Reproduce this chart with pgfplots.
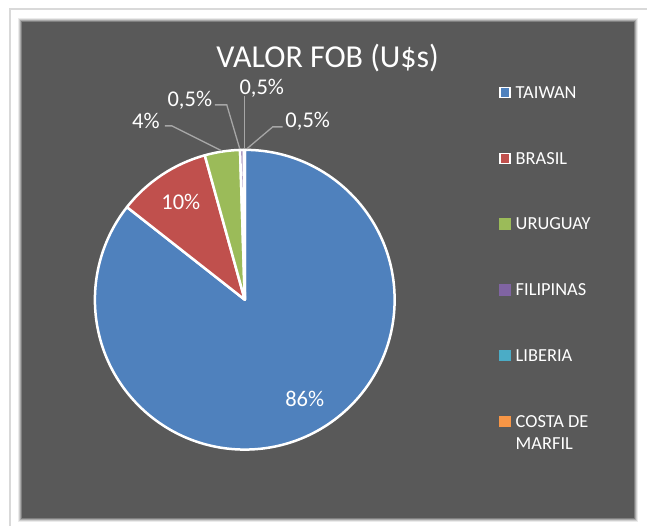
\documentclass[border=0pt]{standalone}
\usepackage{pgfplots}
\pgfplotsset{compat=1.18}
\usepackage{pgfplotstable}
\usepackage{fontspec}
\setmainfont{Carlito}

\definecolor{fondo}{HTML}{595959}
\definecolor{guia}{HTML}{A6A6A6}
\definecolor{cTAIWAN}{HTML}{4F81BD}
\definecolor{cBRASIL}{HTML}{C0504D}
\definecolor{cURUGUAY}{HTML}{9BBB59}
\definecolor{cFILIPINAS}{HTML}{8064A2}
\definecolor{cLIBERIA}{HTML}{4BACC6}
\definecolor{cCOSTA}{HTML}{F79646}

% participacion (%); etiqueta = texto mostrado; lx,ly = posicion de la etiqueta (px)
\pgfplotstableread{
pais      valor etiqueta lx  ly  borde
TAIWAN    85.6  86       305 399 white
BRASIL    10.1  10       181 202 white
URUGUAY   3.8   4        146 121 cURUGUAY
FILIPINAS 0.4   0,5      190 100 cFILIPINAS
LIBERIA   0.05  0,5      262 88  cLIBERIA
COSTA     0.05  0,5      308 121 cCOSTA
}\pies

\begin{document}
\begin{tikzpicture}
\begin{axis}[
  width=648pt, height=526pt, scale only axis,
  xmin=0, xmax=648, ymin=0, ymax=526,
  hide axis, clip=false,
]
\path (axis cs:0,0) rectangle (axis cs:648,526);
% marco y panel
\draw[black!15, line width=1.2pt] (axis cs:10,0) -- (axis cs:10,517) -- (axis cs:648,517);
\foreach \s/\o in {4/0.08,3/0.12,2/0.18,1/0.25}{
  \edef\temp{\noexpand\fill[black, opacity=\o] (axis cs:{22-\s},{8-\s}) rectangle (axis cs:{635+\s},{504+\s});}
  \temp
}
\fill[fondo] (axis cs:22,8) rectangle (axis cs:635,504);

\node[text=white, font=\fontsize{32}{38}\selectfont] at (axis cs:328,468) {VALOR FOB (U\$s)};

% sectores
\gdef\acum{0}
\pgfplotsinvokeforeach{0,...,5}{%
  \pgfplotstablegetelem{#1}{valor}\of\pies \let\val\pgfplotsretval
  \pgfplotstablegetelem{#1}{pais}\of\pies \let\pais\pgfplotsretval
  \pgfmathsetmacro\ai{90-3.6*\acum}
  \pgfmathsetmacro\af{90-3.6*(\acum+\val)}
  \pgfmathparse{\acum+\val}\xdef\acum{\pgfmathresult}
  \edef\temp{\noexpand\filldraw[fill=c\pais, draw=white, line width=2.5pt, line join=round]
    (axis cs:245,226) -- ([shift={(\ai:150pt)}]axis cs:245,226)
    arc[start angle=\ai, end angle=\af, radius=150pt] -- cycle;}
  \temp
}

% lineas guia
\draw[guia, line width=1.3pt] (axis cs:165,400) -- (axis cs:172,400) -- (axis cs:222,375);
\draw[guia, line width=1.3pt] (axis cs:215,421) -- (axis cs:227,421) -- (axis cs:240,377);
\draw[guia, line width=1.3pt] (axis cs:245,430) -- (axis cs:245,377);
\draw[guia, line width=1.3pt] (axis cs:283,399) -- (axis cs:273,399) -- (axis cs:247,377);

% etiquetas
\pgfplotsinvokeforeach{0,...,5}{%
  \pgfplotstablegetelem{#1}{etiqueta}\of\pies \let\et\pgfplotsretval
  \pgfplotstablegetelem{#1}{lx}\of\pies \let\lx\pgfplotsretval
  \pgfplotstablegetelem{#1}{ly}\of\pies \let\ly\pgfplotsretval
  \pgfmathsetmacro\yy{526-\ly}
  \edef\temp{\noexpand\node[text=white, font=\noexpand\fontsize{22.5}{26}\noexpand\selectfont, inner sep=0pt]
    at (axis cs:\lx,\yy) {\et\noexpand\%};}
  \temp
}

% leyenda
\pgfplotsinvokeforeach{0,...,5}{%
  \pgfplotstablegetelem{#1}{pais}\of\pies \let\pais\pgfplotsretval
  \pgfplotstablegetelem{#1}{borde}\of\pies \let\bd\pgfplotsretval
  \pgfmathsetmacro\yy{526-92.7-65.8*#1}
  \edef\temp{\noexpand\filldraw[fill=c\pais, draw=\bd, line width=1.5pt]
    (axis cs:500.5,{\yy-5}) rectangle (axis cs:510.5,{\yy+5});}
  \temp
}
\begin{scope}[every node/.style={text=white, anchor=west, inner sep=0pt,
    font=\fontsize{18.4}{22}\selectfont}]
\node at (axis cs:516,433.3) {TAIWAN};
\node at (axis cs:516,367.5) {BRASIL};
\node at (axis cs:516,301.7) {URUGUAY};
\node at (axis cs:516,235.9) {FILIPINAS};
\node at (axis cs:516,170.1) {LIBERIA};
\node at (axis cs:516,104.3) {COSTA DE};
\node at (axis cs:516,81.5) {MARFIL};
\end{scope}
\end{axis}
\end{tikzpicture}
\end{document}
